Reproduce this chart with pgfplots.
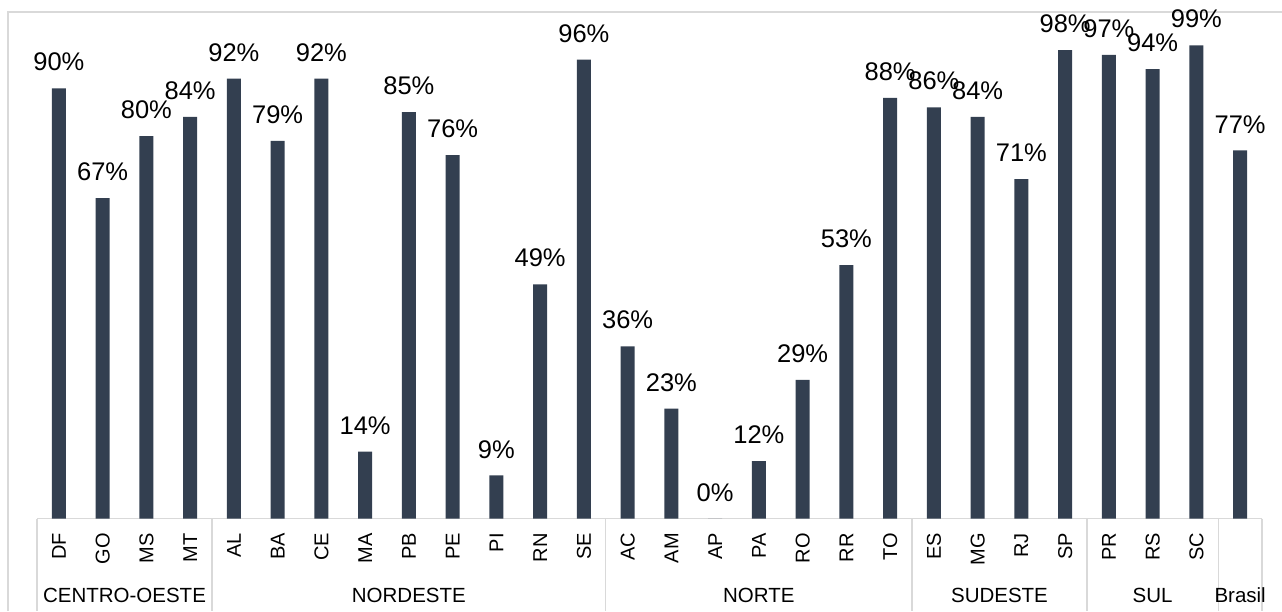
\documentclass[border=0pt]{standalone}
\usepackage{fontspec}
\setmainfont{Liberation Sans}
\usepackage{pgfplots}
\usepackage{pgfplotstable}
\pgfplotsset{compat=1.18}

\definecolor{barblue}{HTML}{333F50}
\definecolor{linegray}{HTML}{D9D9D9}

% share per state (%), grouped by region, national figure last
\pgfplotstableread{
idx val
0 90
1 67
2 80
3 84
4 92
5 79
6 92
7 14
8 85
9 76
10 9
11 49
12 96
13 36
14 23
15 0
16 12
17 29
18 53
19 88
20 86
21 84
22 71
23 98
24 97
25 94
26 99
27 77
}\coverage

\begin{document}
\begin{tikzpicture}
\useasboundingbox (0pt,0pt) rectangle (1282pt,611pt);
% chart frame
\draw[linegray, line width=1.2pt] (8pt,0pt) -- (8pt,599pt) -- (1282pt,599pt);
\begin{axis}[
  at={(37pt,92.5pt)}, anchor=south west,
  scale only axis, width=1225pt, height=478pt,
  xmin=-0.5, xmax=27.5, ymin=0, ymax=100,
  axis y line=none, axis x line*=bottom,
  x axis line style={linegray, line width=1.2pt, -},
  xtick={0,...,27},
  xticklabels={DF,GO,MS,MT,AL,BA,CE,MA,PB,PE,PI,RN,SE,AC,AM,AP,PA,RO,RR,TO,ES,MG,RJ,SP,PR,RS,SC,},
  major tick length=0pt,
  xticklabel style={rotate=90, anchor=east, inner sep=0pt, xshift=-14.5pt,
    font=\fontsize{20}{21}\selectfont},
  clip=false,
  ybar, bar width=14pt,
  nodes near coords={\pgfmathprintnumber{\pgfplotspointmeta}\%},
  nodes near coords style={font=\fontsize{25.5}{26}\selectfont, inner sep=0pt, yshift=17pt,
    /pgf/number format/assume math mode=true},
]
\addplot[fill=barblue, draw=none] table[x=idx, y=val] {\coverage};

% region separators on the category axis
\pgfplotsinvokeforeach{-0.5,3.5,12.5,19.5,23.5,26.5,27.5}{
  \draw[linegray, line width=1.2pt] (axis cs:#1,0) -- ([yshift=-92.5pt]axis cs:#1,0);
}
% region names
\begin{scope}[every node/.style={anchor=base, inner sep=0pt, font=\fontsize{20.5}{21}\selectfont}]
\node at ([yshift=-83.5pt]axis cs:1.5,0) {CENTRO-OESTE};
\node at ([yshift=-83.5pt]axis cs:8,0) {NORDESTE};
\node at ([yshift=-83.5pt]axis cs:16,0) {NORTE};
\node at ([yshift=-83.5pt]axis cs:21.5,0) {SUDESTE};
\node at ([yshift=-83.5pt]axis cs:25,0) {SUL};
\node at ([yshift=-83.5pt]axis cs:27,0) {Brasil};
\end{scope}
\end{axis}
\end{tikzpicture}
\end{document}
